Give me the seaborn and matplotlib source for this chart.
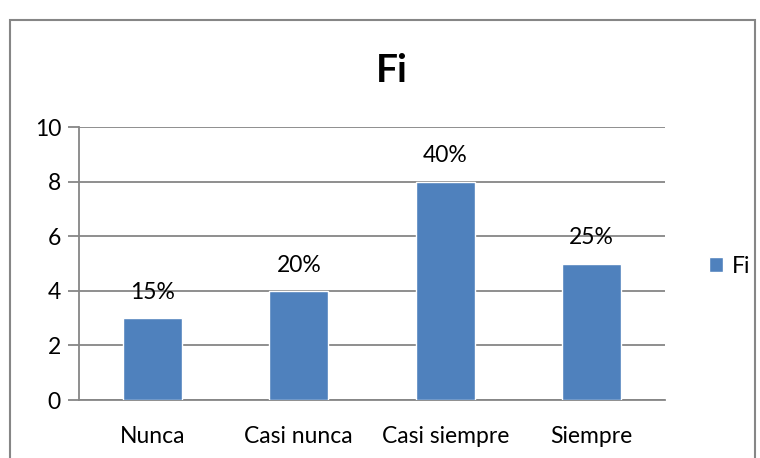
import pandas as pd
import numpy as np
import matplotlib.pyplot as plt
import seaborn as sns
from matplotlib.patches import Rectangle, Patch

# datos
categorias = ['Nunca', 'Casi nunca', 'Casi siempre', 'Siempre']
fi = [3, 4, 8, 5]
porcentajes = ['15%', '20%', '40%', '25%']

df = pd.DataFrame({'categoria': categorias, 'Fi': fi})

sns.set_style('white')
plt.rcParams['font.family'] = ['Lato', 'DejaVu Sans']
plt.rcParams['text.color'] = 'black'
plt.rcParams['xtick.labelcolor'] = 'black'
plt.rcParams['ytick.labelcolor'] = 'black'

azul = '#4F81BD'
gris = '#868686'
fs = 16.5

fig = plt.figure(figsize=(7.6, 4.58), dpi=100)
ax = fig.add_axes([0.104, 0.1266, 0.771, 0.596])

sns.barplot(data=df, x='categoria', y='Fi', color=azul, width=0.4,
            saturation=1, ax=ax, zorder=3)

ax.bar_label(ax.containers[0], labels=porcentajes, padding=11, fontsize=fs,
             color='black')

ax.set_ylim(0, 10)
ax.set_yticks(np.arange(0, 11, 2))
ax.set_xlim(-0.5, 3.5)
ax.yaxis.grid(True, color=gris, linewidth=1.3, zorder=0)
ax.set_axisbelow(True)

# ticks del eje x en los limites de categoria
ax.set_xticks(np.arange(-0.5, 4, 1), minor=True)
ax.tick_params(axis='x', which='major', length=0, labelsize=fs, pad=19,
               labelcolor='black')
ax.tick_params(axis='x', which='minor', length=8, width=1.3, color=gris,
               direction='out')
ax.tick_params(axis='y', length=8, width=1.3, color=gris, labelsize=fs, pad=5,
               direction='out', left=True, labelcolor='black')

for s in ['top', 'right']:
    ax.spines[s].set_visible(False)
for s in ['left', 'bottom']:
    ax.spines[s].set_color(gris)
    ax.spines[s].set_linewidth(1.3)

ax.set_xlabel('')
ax.set_ylabel('')

fig.text(0.516, 1 - 82 / 458, 'Fi', ha='center', va='baseline', fontsize=28,
         fontweight='bold', color='black')

leg = ax.legend(handles=[Patch(facecolor=azul, label='Fi')], loc='center left',
                bbox_to_anchor=(1.04, 0.49), frameon=False, fontsize=fs,
                handlelength=0.6, handleheight=0.6, handletextpad=0.4)
for t in leg.get_texts():
    t.set_color('black')

# marco del grafico
fig.patches.append(Rectangle((10 / 760, -0.05), 745 / 760, 1 - 20 / 458 + 0.05,
                             transform=fig.transFigure, fill=False,
                             edgecolor=gris, linewidth=1.5))

fig.savefig('out.png', dpi=100)
